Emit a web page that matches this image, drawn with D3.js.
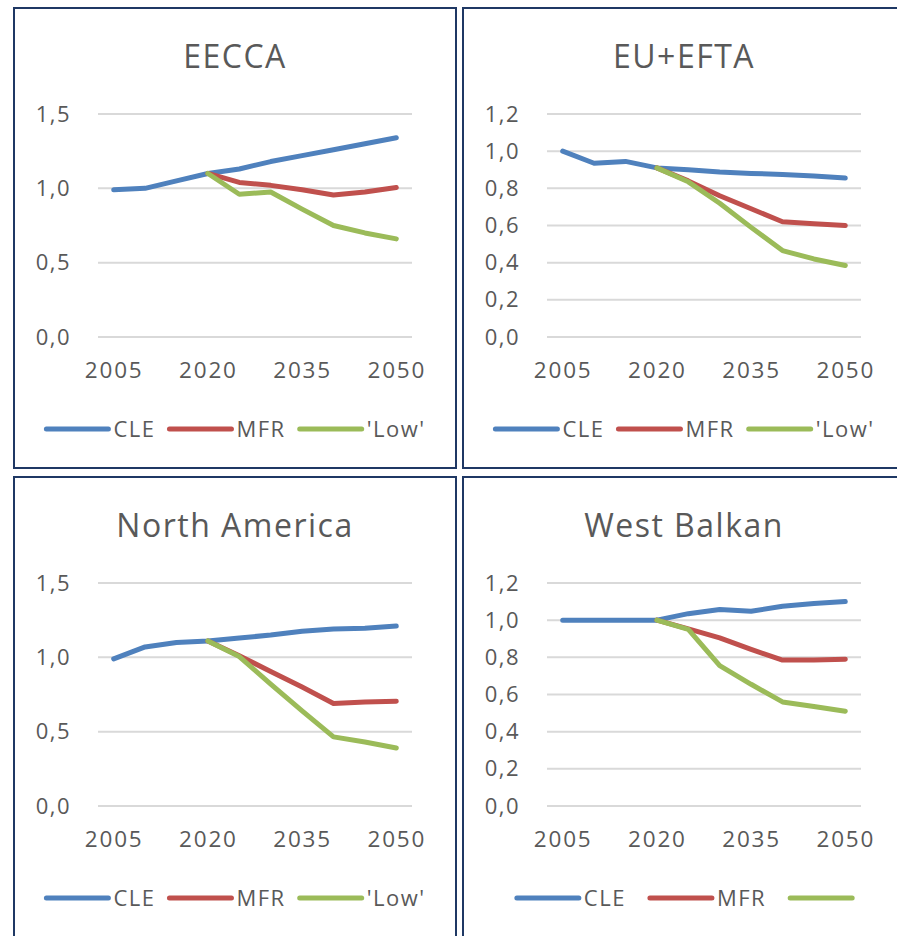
<!DOCTYPE html>
<html>
<head>
<meta charset="utf-8">
<script src="https://cdn.jsdelivr.net/npm/d3@7"></script>
<style>
  body { margin: 0; background: #fff; }
  svg { display: block; font-family: "Open Sans", sans-serif; }
</style>
</head>
<body>
<div class="canvas"></div>
<script>
const WIDTH = 897,
  HEIGHT = 936,
  PANEL = { width: 442, height: 460 },
  MARGIN = { top: 106, right: 44, bottom: 131, left: 84 },
  COLORS = ["#4f81bd", "#c0504d", "#9bbb59"];

// data
const years = [2005, 2010, 2015, 2020, 2025, 2030, 2035, 2040, 2045, 2050];
const yearLabels = [2005, 2020, 2035, 2050];
const regions = ["EECCA", "EU+EFTA", "North America", "West Balkan"];
const seriesNames = ["CLE", "MFR", "'Low'"];
const westBalkanNames = ["CLE", "MFR", ""];

const eeccaCLE = [0.99, 1.0, 1.05, 1.1, 1.13, 1.18, 1.22, 1.26, 1.3, 1.34];
const eeccaMFR = [null, null, null, 1.1, 1.04, 1.02, 0.99, 0.955, 0.975, 1.005];
const eeccaLow = [null, null, null, 1.1, 0.96, 0.975, 0.86, 0.75, 0.7, 0.66];

const euCLE = [1.0, 0.935, 0.945, 0.91, 0.9, 0.888, 0.88, 0.875, 0.866, 0.855];
const euMFR = [null, null, null, 0.91, 0.84, 0.76, 0.69, 0.62, 0.61, 0.6];
const euLow = [null, null, null, 0.91, 0.835, 0.72, 0.59, 0.465, 0.42, 0.385];

const naCLE = [0.99, 1.07, 1.1, 1.11, 1.13, 1.15, 1.175, 1.19, 1.195, 1.21];
const naMFR = [null, null, null, 1.11, 1.01, 0.905, 0.8, 0.69, 0.7, 0.705];
const naLow = [null, null, null, 1.11, 1.005, 0.82, 0.64, 0.465, 0.43, 0.39];

const wbCLE = [1.0, 1.0, 1.0, 1.0, 1.035, 1.057, 1.048, 1.075, 1.09, 1.1];
const wbMFR = [null, null, null, 1.0, 0.953, 0.905, 0.843, 0.785, 0.785, 0.79];
const wbLow = [null, null, null, 1.0, 0.95, 0.755, 0.655, 0.56, 0.535, 0.51];

const yMax = [1.5, 1.2, 1.5, 1.2];
const yStep = [0.5, 0.2, 0.5, 0.2];

const panels = [
  { x: 14, y: 8, series: [eeccaCLE, eeccaMFR, eeccaLow], names: seriesNames, gap: 12 },
  { x: 463, y: 8, series: [euCLE, euMFR, euLow], names: seriesNames, gap: 12 },
  { x: 14, y: 477, series: [naCLE, naMFR, naLow], names: seriesNames, gap: 12 },
  { x: 463, y: 477, series: [wbCLE, wbMFR, wbLow], names: westBalkanNames, gap: 22 },
];

const comma = d3.formatLocale({ decimal: ",", thousands: ".", grouping: [3], currency: ["", ""] }).format(".1f");

const svg = d3
  .select(".canvas")
  .append("svg")
  .attr("width", WIDTH)
  .attr("height", HEIGHT);

panels.forEach((p, i) => drawPanel(p, i));

function drawPanel(p, i) {
  const g = svg.append("g").attr("transform", `translate(${p.x}, ${p.y})`);
  const w = PANEL.width - MARGIN.left - MARGIN.right;
  const h = PANEL.height - MARGIN.top - MARGIN.bottom;

  g.append("rect")
    .attr("width", PANEL.width)
    .attr("height", PANEL.height)
    .attr("fill", "#fff")
    .attr("stroke", "#1f3864")
    .attr("stroke-width", 2);

  g.append("text")
    .attr("x", PANEL.width / 2)
    .attr("y", 60)
    .attr("text-anchor", "middle")
    .attr("fill", "#595959")
    .style("font-size", "32px")
    .style("letter-spacing", "1.5px")
    .text(regions[i]);

  const plot = g.append("g").attr("transform", `translate(${MARGIN.left}, ${MARGIN.top})`);

  const x = d3.scalePoint().domain(years).range([0, w]).padding(0.5);
  const y = d3.scaleLinear().domain([0, yMax[i]]).range([h, 0]);
  const ticks = d3.range(0, yMax[i] + 1e-9, yStep[i]);

  plot
    .selectAll(".grid")
    .data(ticks)
    .enter()
    .append("line")
    .attr("x1", 0)
    .attr("x2", w)
    .attr("y1", (d) => y(d))
    .attr("y2", (d) => y(d))
    .attr("stroke", "#d9d9d9")
    .attr("stroke-width", 2);

  const yAxis = plot
    .append("g")
    .call(d3.axisLeft(y).tickValues(ticks).tickFormat(comma).tickSize(0).tickPadding(27));
  yAxis.select(".domain").remove();
  yAxis
    .selectAll("text")
    .attr("fill", "#595959")
    .style("font-size", "22px")
    .style("letter-spacing", "1.5px")
    .style("font-family", "Open Sans, sans-serif");

  const xAxis = plot
    .append("g")
    .attr("transform", `translate(0, ${h})`)
    .call(d3.axisBottom(x).tickValues(yearLabels).tickSize(0).tickPadding(25));
  xAxis.select(".domain").remove();
  xAxis
    .selectAll("text")
    .attr("fill", "#595959")
    .style("font-size", "22.5px")
    .style("letter-spacing", "1.8px")
    .style("font-family", "Open Sans, sans-serif");

  const line = d3
    .line()
    .defined((d) => d != null)
    .x((d, k) => x(years[k]))
    .y((d) => y(d));

  p.series.forEach((values, k) => {
    plot
      .append("path")
      .datum(values)
      .attr("d", line)
      .attr("fill", "none")
      .attr("stroke", COLORS[k])
      .attr("stroke-width", 5)
      .attr("stroke-linejoin", "round")
      .attr("stroke-linecap", "round");
  });

  drawLegend(g, p);
}

function drawLegend(g, p) {
  const legend = g.append("g");
  let cursor = 0;
  p.names.forEach((name, k) => {
    const item = legend.append("g").attr("transform", `translate(${cursor}, 0)`);
    item
      .append("line")
      .attr("x1", 2)
      .attr("x2", 64)
      .attr("stroke", COLORS[k])
      .attr("stroke-width", 5)
      .attr("stroke-linecap", "round");
    const label = item
      .append("text")
      .attr("x", 69)
      .attr("y", 8)
      .attr("fill", "#595959")
      .style("font-size", "22px")
      .style("letter-spacing", "1.5px")
      .text(name);
    const tw = name ? label.node().getComputedTextLength() : 0;
    cursor += 69 + tw + (name ? p.gap : 0);
    if (!name) cursor -= 4;
  });
  const total = cursor - (p.names[p.names.length - 1] ? p.gap : 0);
  legend.attr("transform", `translate(${(PANEL.width - total) / 2}, 421)`);
}
</script>
</body>
</html>
